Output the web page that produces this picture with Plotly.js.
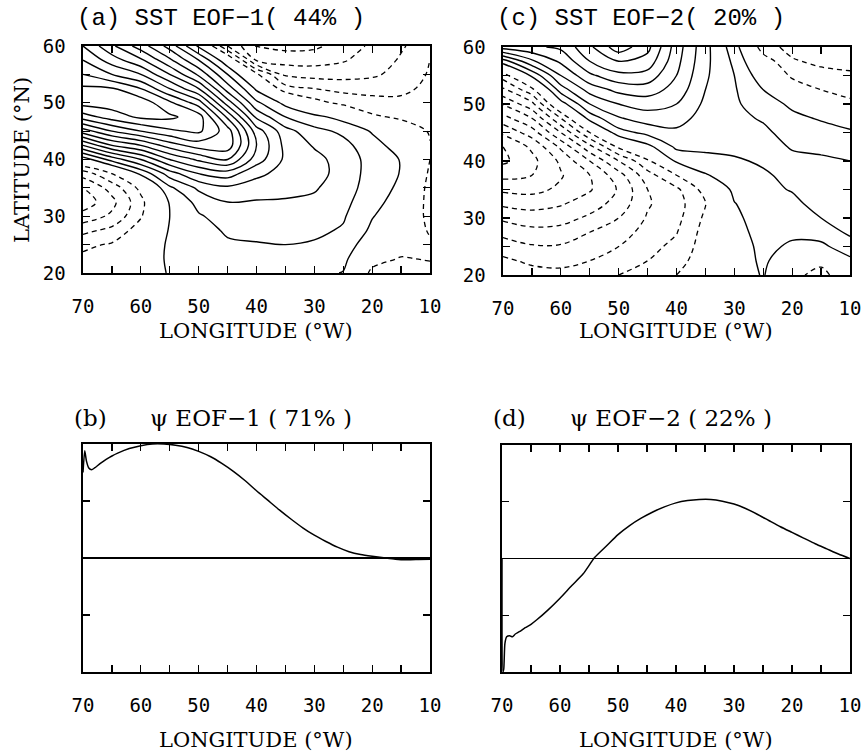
<!DOCTYPE html>
<html>
<head>
<meta charset="utf-8">
<script src="https://cdn.plot.ly/plotly-3.0.1.min.js"></script>
<style>html,body{margin:0;padding:0;background:#fff}#chart{width:865px;height:755px}</style>
</head>
<body>
<div id="chart"></div>
<script>
// ---------- grid (longitude °W, latitude °N) ----------
var lonGrid = [70, 65, 60, 55, 50, 45, 40, 35, 30, 25, 20, 15, 10];
var latGrid = [20, 22.5, 25, 27.5, 30, 32.5, 35, 37.5, 40, 42.5, 45, 47.5, 50, 52.5, 55, 57.5, 60];

// ---------- (a) SST EOF-1 field, rows = latitude, cols = longitude ----------
var sstEof1 = [
  [-0.6, -0.4, 0.3, 1.1, 1.4, 1.5, 1.5, 1.4, 1.3, 0.95, -1.3, -1.6, -1.5],
  [-0.8, -0.6, 0.2, 1.2, 1.5, 1.7, 1.7, 1.6, 1.6, 1.3, -0.5, -1.1, -0.9],
  [-1.2, -0.9, 0.0, 1.2, 1.6, 1.9, 1.95, 2.0, 1.9, 1.6, 0.3, -0.4, -0.8],
  [-2.3, -1.7, -0.5, 1.1, 1.7, 2.1, 2.2, 2.3, 2.2, 1.9, 0.8, 0.1, -1.15],
  [-3.6, -2.8, -1.1, 1.0, 1.9, 2.4, 2.5, 2.6, 2.5, 2.1, 1.05, 0.4, -1.4],
  [-4.6, -3.3, -1.3, 1.1, 2.3, 3.0, 2.9, 2.9, 2.8, 2.3, 1.3, 0.6, -1.45],
  [-4.0, -2.6, -0.7, 1.8, 3.2, 3.8, 3.6, 3.3, 3.1, 2.5, 1.5, 0.8, -1.4],
  [-2.6, -1.0, 1.2, 3.5, 5.0, 5.5, 4.2, 3.7, 3.4, 2.6, 1.6, 0.95, -1.2],
  [0.4, 2.4, 4.0, 6.0, 7.2, 8.0, 5.5, 3.8, 3.3, 2.6, 1.6, 0.95, -1.0],
  [4.0, 6.0, 7.0, 8.5, 9.5, 9.6, 6.0, 3.7, 2.9, 2.3, 1.4, 0.5, -0.95],
  [7.5, 9.0, 10.0, 10.8, 11.2, 9.5, 5.5, 3.4, 2.3, 1.8, 0.9, -0.2, -1.1],
  [10.5, 11.5, 12.2, 12.2, 11.5, 7.8, 3.8, 2.0, 1.3, 0.6, -0.8, -1.2, -1.4],
  [12.4, 12.5, 12.6, 11.2, 9.5, 5.5, 2.2, 0.7, -0.6, -1.3, -1.7, -1.8, -1.6],
  [12.2, 12.1, 11.0, 9.0, 7.0, 3.5, 0.8, -1.6, -2.0, -2.3, -2.3, -2.2, -1.8],
  [11.0, 10.0, 9.0, 7.0, 4.8, 2.0, -0.8, -3.2, -3.4, -3.4, -3.2, -2.6, -1.9],
  [10.0, 8.5, 7.2, 5.2, 3.0, 0.2, -4.1, -4.4, -4.4, -4.1, -3.5, -2.9, -1.95],
  [9.0, 7.2, 5.5, 3.6, 0.8, -3.0, -5.1, -5.3, -5.2, -4.6, -3.8, -3.1, -2.5]
];

// ---------- (c) SST EOF-2 field ----------
var sstEof2 = [
  [-2.2, -2.6, -2.7, -2.5, -2.0, -1.8, -1.0, -0.3, 0.3, 1.1, -0.6, -1.5, 0.2],
  [-2.8, -3.2, -3.3, -3.0, -2.5, -2.0, -1.4, -0.4, 0.4, 1.2, 0.2, -0.6, 0.8],
  [-3.5, -3.9, -3.9, -3.5, -3.0, -2.3, -1.75, -0.5, 0.5, 1.25, 0.85, 0.8, 1.5],
  [-4.3, -4.7, -4.6, -4.0, -3.5, -2.6, -2.05, -0.6, 0.6, 1.4, 1.2, 1.4, 2.2],
  [-5.2, -5.5, -5.4, -4.8, -4.0, -2.9, -2.3, -0.8, 0.75, 1.55, 1.5, 2.0, 2.4],
  [-6.2, -6.4, -6.1, -5.5, -4.6, -3.1, -2.4, -1.05, 0.95, 1.7, 1.8, 2.3, 2.5],
  [-7.2, -7.3, -6.8, -6.1, -4.9, -3.0, -2.2, -0.6, 1.3, 1.8, 2.05, 2.45, 2.4],
  [-8.3, -8.0, -7.1, -6.0, -4.4, -2.4, -1.0, 0.9, 1.6, 1.9, 2.2, 2.35, 2.2],
  [-9.2, -8.3, -6.8, -5.0, -3.0, -1.2, 1.2, 1.7, 1.9, 2.1, 2.15, 2.15, 2.0],
  [-9.0, -7.8, -5.8, -3.3, -0.8, 0.7, 2.2, 2.2, 2.2, 2.25, 1.95, 1.8, 1.7],
  [-7.8, -6.5, -4.0, -1.0, 1.6, 2.3, 2.8, 2.4, 2.35, 2.2, 1.6, 1.4, 1.2],
  [-6.4, -5.0, -2.0, 1.4, 2.9, 3.5, 3.4, 2.6, 2.25, 1.9, 1.25, 0.9, 0.3],
  [-4.9, -3.3, 0.5, 3.0, 4.0, 4.4, 4.0, 2.8, 2.15, 1.5, 0.8, -0.2, -0.8],
  [-3.2, -1.3, 2.5, 4.4, 5.3, 5.5, 4.6, 3.0, 2.1, 1.0, -0.3, -1.0, -1.3],
  [-1.5, 1.2, 4.0, 5.8, 6.7, 6.6, 5.0, 3.15, 2.0, 0.4, -1.2, -1.7, -1.85],
  [1.5, 3.8, 5.2, 7.0, 8.0, 7.6, 5.3, 3.25, 1.8, -0.4, -1.9, -2.2, -2.3],
  [5.5, 5.8, 6.2, 7.8, 9.6, 8.3, 5.5, 3.3, 1.5, -1.6, -2.3, -2.5, -2.6]
];

// ---------- (b) psi EOF-1 ----------
var lonPsi1 = [70, 69.7, 69.4, 69.0, 68.5, 68.0, 67, 66, 65, 64, 62, 60, 58, 56, 54, 52, 50, 48, 46, 44, 42, 40, 38, 36, 34, 32, 30, 28, 26, 24, 22, 20, 18, 16, 14, 12, 10];
var psi1 = [1.5, 1.88, 1.7, 1.58, 1.55, 1.58, 1.66, 1.73, 1.79, 1.84, 1.92, 1.97, 2.0, 2.0, 1.98, 1.94, 1.87, 1.78, 1.66, 1.52, 1.36, 1.18, 1.01, 0.84, 0.68, 0.53, 0.40, 0.29, 0.19, 0.11, 0.06, 0.03, 0.005, -0.02, -0.03, -0.025, -0.02];

// ---------- (d) psi EOF-2 ----------
var lonPsi2 = [70, 69.85, 69.7, 69.5, 69.2, 68.7, 68.2, 67.7, 67, 66, 65, 64, 62, 60, 58, 56, 54, 52, 50, 48, 46, 44, 42, 40, 38, 36, 34, 32, 30, 28, 26, 24, 22, 20, 18, 16, 14, 12, 10];
var psi2 = [0.0, -2.0, -1.95, -1.5, -1.38, -1.36, -1.38, -1.33, -1.29, -1.22, -1.16, -1.08, -0.90, -0.70, -0.48, -0.27, 0.02, 0.22, 0.42, 0.58, 0.71, 0.82, 0.91, 0.98, 1.02, 1.04, 1.04, 1.01, 0.96, 0.88, 0.78, 0.67, 0.56, 0.46, 0.36, 0.26, 0.17, 0.08, 0.0];

// ---------- ticks and labels ----------
var lonTicks = [70, 65, 60, 55, 50, 45, 40, 35, 30, 25, 20, 15, 10];
var lonLabels = ['70', '', '60', '', '50', '', '40', '', '30', '', '20', '', '10'];
var latTicks = [20, 25, 30, 35, 40, 45, 50, 55, 60];
var latLabels = ['20', '', '30', '', '40', '', '50', '', '60'];
var psiTicks = [-1, 0, 1];

var titleA = 'SST EOF\u22121( 44% )';
var titleC = 'SST EOF\u22122( 20% )';
var titleB = '\u03c8 EOF\u22121 ( 71% )';
var titleD = '\u03c8 EOF\u22122 ( 22% )';
var xTitle = 'LONGITUDE (\u00b0W)';
var yTitle = 'LATITUDE (\u00b0N)';

// ---------- build ----------
var W = 865, H = 755;
function px2x(p) { return p / W; }
function px2y(p) { return 1 - p / H; }

function contourPair(z, xa, ya) {
  var common = {
    type: 'contour', x: lonGrid, y: latGrid, z: z, xaxis: xa, yaxis: ya,
    showscale: false, hoverinfo: 'skip', autocontour: false
  };
  var pos = Object.assign({}, common, {
    contours: {start: 1, end: 20, size: 1, coloring: 'none'},
    line: {color: '#000', width: 1.4, smoothing: 1}
  });
  var neg = Object.assign({}, common, {
    contours: {start: -20, end: -1, size: 1, coloring: 'none'},
    line: {color: '#000', width: 1.3, dash: '5px,4px', smoothing: 1}
  });
  return [pos, neg];
}

var traces = [].concat(
  contourPair(sstEof1, 'x', 'y'),
  contourPair(sstEof2, 'x2', 'y2'),
  [{type: 'scatter', mode: 'lines', x: lonPsi1, y: psi1, xaxis: 'x3', yaxis: 'y3',
    line: {color: '#000', width: 1.5, shape: 'spline', smoothing: 0.6}, hoverinfo: 'skip'},
   {type: 'scatter', mode: 'lines', x: lonPsi2, y: psi2, xaxis: 'x4', yaxis: 'y4',
    line: {color: '#000', width: 1.5, shape: 'spline', smoothing: 0.6}, hoverinfo: 'skip'}]
);

var tickFont = {family: 'DejaVu Sans Mono', size: 19, color: '#000'};
function xAxis(d, anchor) {
  return {domain: d, anchor: anchor, range: [70, 10], tickmode: 'array', tickvals: lonTicks, ticktext: lonLabels,
    ticks: 'inside', ticklen: 7, tickwidth: 1.2, tickcolor: '#000', showline: true, linecolor: '#000', linewidth: 1.6,
    mirror: 'ticks', showgrid: false, zeroline: false, tickfont: tickFont, ticklabelstandoff: 16, fixedrange: true};
}
function yAxisLat(d, anchor) {
  return {domain: d, anchor: anchor, range: [20, 60], tickmode: 'array', tickvals: latTicks, ticktext: latLabels,
    ticks: 'inside', ticklen: 7, tickwidth: 1.2, tickcolor: '#000', showline: true, linecolor: '#000', linewidth: 1.6,
    mirror: 'ticks', showgrid: false, zeroline: false, tickfont: tickFont, ticklabelstandoff: 12, fixedrange: true};
}
function yAxisPsi(d, anchor) {
  return {domain: d, anchor: anchor, range: [-2, 2], tickmode: 'array', tickvals: psiTicks, showticklabels: false,
    ticks: 'inside', ticklen: 7, tickwidth: 1.2, tickcolor: '#000', showline: true, linecolor: '#000', linewidth: 1.6,
    mirror: 'ticks', showgrid: false, zeroline: true, zerolinecolor: '#000', zerolinewidth: 1.5, fixedrange: true};
}

var dAx = [px2x(83), px2x(430)], dCx = [px2x(503), px2x(850)];
var dBx = [px2x(83), px2x(430)], dDx = [px2x(502), px2x(850)];
var dAy = [px2y(273), px2y(46)], dCy = [px2y(275), px2y(47)];
var dBy = [px2y(672), px2y(444)], dDy = [px2y(672), px2y(445)];

var monoTitle = {family: 'Liberation Mono', size: 24, color: '#000'};
var serif = {family: 'DejaVu Serif', size: 21, color: '#000'};
var serifT = {family: 'DejaVu Serif', size: 23, color: '#000'};

function ann(text, xp, yp, font, xanchor, extra) {
  return Object.assign({text: text, x: px2x(xp), y: px2y(yp), xref: 'paper', yref: 'paper',
    xanchor: xanchor || 'center', yanchor: 'middle', showarrow: false, font: font}, extra || {});
}

var layout = {
  width: W, height: H, margin: {l: 0, r: 0, t: 0, b: 0},
  paper_bgcolor: '#fff', plot_bgcolor: '#fff', showlegend: false,
  xaxis: xAxis(dAx, 'y'), yaxis: yAxisLat(dAy, 'x'),
  xaxis2: xAxis(dCx, 'y2'), yaxis2: yAxisLat(dCy, 'x2'),
  xaxis3: xAxis(dBx, 'y3'), yaxis3: yAxisPsi(dBy, 'x3'),
  xaxis4: xAxis(dDx, 'y4'), yaxis4: yAxisPsi(dDy, 'x4'),
  annotations: [
    ann('(a) ' + titleA, 75, 18, monoTitle, 'left'),
    ann('(c) ' + titleC, 495, 18, monoTitle, 'left'),
    ann('(b)', 72, 418, serifT, 'left'),
    ann(titleB, 148, 418, serifT, 'left'),
    ann('(d)', 491, 418, serifT, 'left'),
    ann(titleD, 568, 418, serifT, 'left'),
    ann(xTitle, 256, 331, serif),
    ann(xTitle, 676, 331, serif),
    ann(xTitle, 256, 740, serif),
    ann(xTitle, 676, 740, serif),
    ann(yTitle, 22, 160, serif, 'center', {textangle: -90})
  ]
};

Plotly.newPlot('chart', traces, layout, {staticPlot: true, displayModeBar: false});
</script>
</body>
</html>
